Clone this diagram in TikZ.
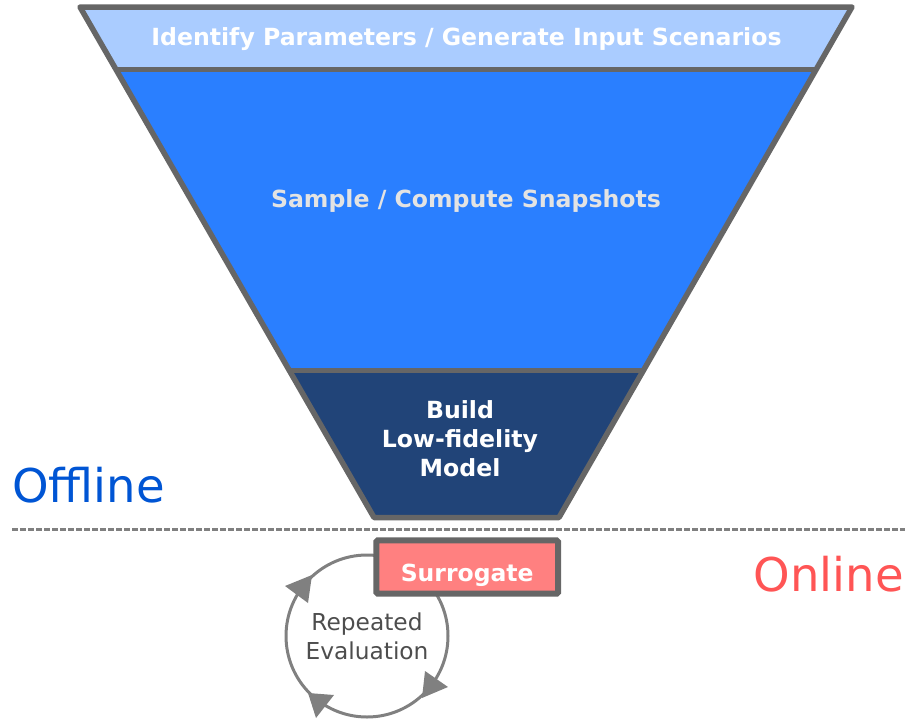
\documentclass[tikz,border=0pt]{standalone}
\usepackage{fontspec}
\setmainfont{DejaVu Sans}
\definecolor{edgegray}{HTML}{666666}
\definecolor{bandlight}{HTML}{AACCFF}
\definecolor{bandmid}{HTML}{2A7FFF}
\definecolor{banddark}{HTML}{214478}
\definecolor{midtext}{HTML}{E3E3E3}
\definecolor{offblue}{HTML}{0055D4}
\definecolor{onred}{HTML}{FF5555}
\definecolor{surfill}{HTML}{FF8080}
\definecolor{loopgray}{HTML}{808080}
\definecolor{looptext}{HTML}{4D4D4D}
\begin{document}
\begin{tikzpicture}[x=1pt,y=-1pt,
  outline/.style={draw=edgegray,line width=5.5pt,line join=round},
  bandtext/.style={font=\fontsize{23.6}{29}\selectfont\bfseries,inner sep=0pt},
  sidetext/.style={font=\fontsize{46.5}{50}\selectfont,inner sep=0pt},
  divider/.style={draw=loopgray,line width=3pt,dash pattern=on 5.5pt off 2.5pt},
  surbox/.style={rectangle,draw=edgegray,fill=surfill,line width=6pt,rounded corners=1.5pt,
    minimum width=181.7pt,minimum height=53.4pt,text height=29.4pt,text depth=0pt,
    text=white,font=\fontsize{23.5}{29}\selectfont\bfseries},
  loopcircle/.style={circle,draw=loopgray,line width=3pt,minimum size=162pt,inner sep=0pt,
    align=center,text=looptext,font=\fontsize{23.3}{29}\selectfont},
  looptip/.style={fill=loopgray}]
\useasboundingbox (0,0) rectangle (911,723);

% funnel corners
\coordinate (tl) at (80,7);
\coordinate (tr) at (852,7);
\coordinate (l1) at (116,69.7);
\coordinate (r1) at (816,69.7);
\coordinate (l2) at (289,370.3);
\coordinate (r2) at (643.5,370.3);
\coordinate (bl) at (374,517.5);
\coordinate (br) at (559,517.5);

% funnel bands
\fill[bandlight] (tl) -- (tr) -- (r1) -- (l1) -- cycle;
\fill[bandmid] (l1) -- (r1) -- (r2) -- (l2) -- cycle;
\fill[banddark] (l2) -- (r2) -- (br) -- (bl) -- cycle;
\draw[outline] (tl) -- (tr) -- (br) -- (bl) -- cycle;
\draw[outline] (l1) -- (r1);
\draw[outline] (l2) -- (r2);

\node[bandtext,text=white,anchor=base] (identify) at (466.5,45)
  {Identify Parameters / Generate Input Scenarios};
\node[bandtext,text=midtext,anchor=base] (sample) at (466,207)
  {Sample / Compute Snapshots};
\node[bandtext,text=white,align=center] (build) at (460,438.5)
  {Build\\Low-fidelity\\Model};

% offline / online split
\coordinate (dl) at (12,529.5);
\coordinate (dr) at (905,529.5);
\draw[divider] (dl) -- (dr);
\node[sidetext,text=offblue,anchor=base west] (offline) at (12,502.7) {Offline};
\node[sidetext,text=onred,anchor=base east] (online) at (904,591) {Online};

% evaluation loop
\node[loopcircle] (loop) at (367,636) {Repeated\\Evaluation};
\begin{scope}[shift={(loop.center)}]
  \fill[looptip] (-82,-50) -- (-55,-61) -- (-59,-33) -- cycle;
  \fill[looptip] (58,35) -- (81,51) -- (55,62) -- cycle;
  \fill[looptip] (-59,57) -- (-33,59) -- (-51,82) -- cycle;
\end{scope}

\node[surbox] (surrogate) at (467.2,567) {Surrogate};
\end{tikzpicture}
\end{document}
